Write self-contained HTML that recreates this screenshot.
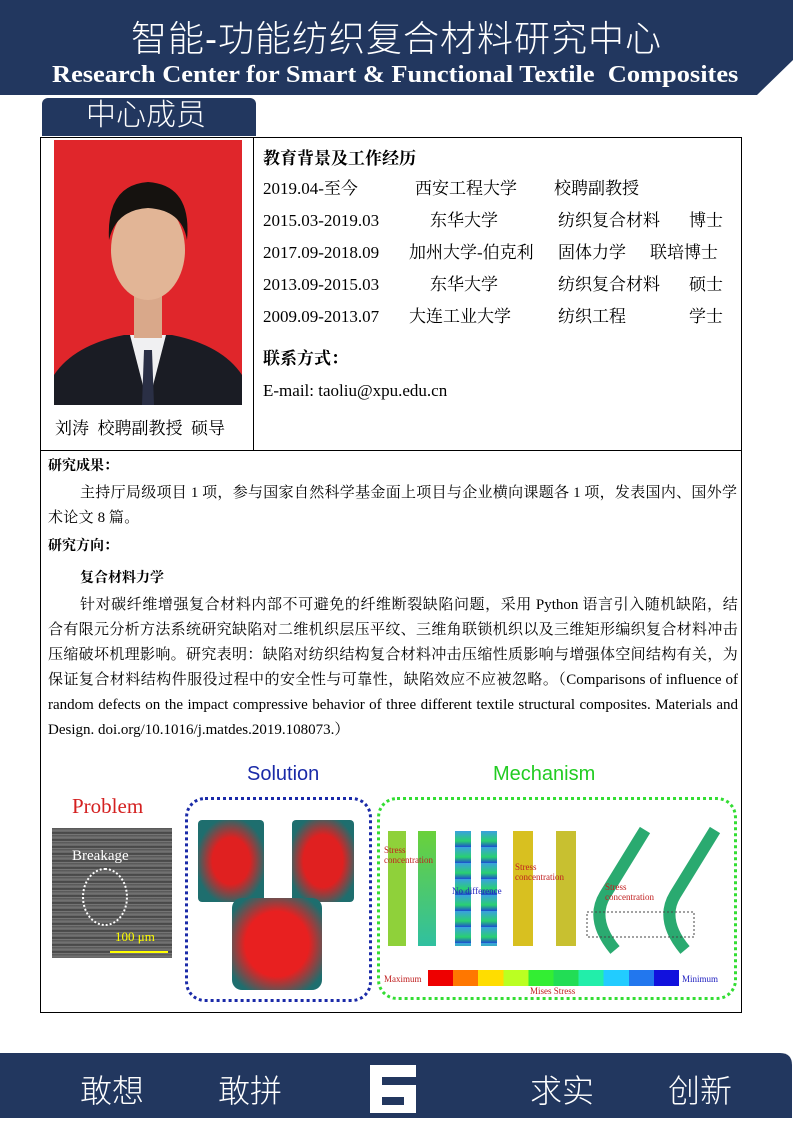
<!DOCTYPE html>
<html><head><meta charset="utf-8"><style>
*{margin:0;padding:0;box-sizing:border-box}
body{width:793px;height:1122px;position:relative;background:#fff;font-family:"Liberation Serif","Noto Serif CJK SC",serif;overflow:hidden}
.a{position:absolute;white-space:nowrap}
.sans{font-family:"Liberation Sans","Noto Sans CJK SC",sans-serif}
.r{font-size:17px;color:#000;line-height:22px;height:22px}
.p{font-size:15px;color:#000;line-height:25px}
.q{font-size:15px;letter-spacing:0.3px}
</style></head><body>
<svg class="a" style="left:0;top:0" width="793" height="100"><polygon points="0,0 793,0 793,60 757,95 0,95" fill="#22375f"/></svg>
<div class="a sans" style="left:0;width:793px;text-align:center;top:14px;font-size:36px;line-height:50px;color:#fff;font-weight:300;letter-spacing:1px">智能-功能纺织复合材料研究中心</div>
<div class="a" style="left:52px;top:61px;font-size:24px;line-height:28px;font-weight:bold;color:#fff;transform:scaleX(1.1);transform-origin:left">Research Center for Smart &amp; Functional Textile&nbsp; Composites</div>
<div class="a sans" style="left:42px;top:98px;width:214px;height:38px;background:#22375f;border-radius:6px 6px 0 0;color:#fff;font-size:30px;line-height:36px;padding-left:44px;font-weight:300">中心成员</div>
<div class="a" style="left:40px;top:137px;width:702px;height:876px;border:1px solid #000"></div>
<div class="a" style="left:253px;top:137px;width:1px;height:313px;background:#000"></div>
<div class="a" style="left:40px;top:450px;width:702px;height:1px;background:#000"></div>
<svg class="a" style="left:54px;top:140px" width="188" height="265">
<rect width="188" height="265" fill="#e0262b"/>
<path d="M0,265 L0,235 Q20,205 70,195 L118,195 Q168,205 188,235 L188,265Z" fill="#1a1c24"/>
<path d="M76,195 L94,265 L112,195Z" fill="#f0f0f2"/>
<path d="M90,210 L98,210 L100,265 L88,265Z" fill="#2a2f45"/>
<rect x="80" y="150" width="28" height="48" fill="#d9a88a"/>
<ellipse cx="94" cy="110" rx="37" ry="50" fill="#e2b596"/>
<path d="M55,100 Q52,45 94,42 Q138,45 133,100 Q128,70 94,68 Q62,70 55,100Z" fill="#15120f"/>
</svg>
<div class="a" style="left:55px;top:418px;font-size:17px;line-height:22px">刘涛&nbsp; 校聘副教授&nbsp; 硕导</div>
<div class="a r" style="left:263px;top:148px;font-weight:bold">教育背景及工作经历</div>
<div class="a r" style="left:263px;top:178px">2019.04-至今</div><div class="a r" style="left:415px;top:178px">西安工程大学</div><div class="a r" style="left:554px;top:178px">校聘副教授</div>
<div class="a r" style="left:263px;top:210px">2015.03-2019.03</div><div class="a r" style="left:430px;top:210px">东华大学</div><div class="a r" style="left:558px;top:210px">纺织复合材料</div><div class="a r" style="left:689px;top:210px">博士</div>
<div class="a r" style="left:263px;top:242px">2017.09-2018.09</div><div class="a r" style="left:409px;top:242px">加州大学-伯克利</div><div class="a r" style="left:558px;top:242px">固体力学</div><div class="a r" style="left:650px;top:242px">联培博士</div>
<div class="a r" style="left:263px;top:274px">2013.09-2015.03</div><div class="a r" style="left:430px;top:274px">东华大学</div><div class="a r" style="left:558px;top:274px">纺织复合材料</div><div class="a r" style="left:689px;top:274px">硕士</div>
<div class="a r" style="left:263px;top:306px">2009.09-2013.07</div><div class="a r" style="left:409px;top:306px">大连工业大学</div><div class="a r" style="left:558px;top:306px">纺织工程</div><div class="a r" style="left:689px;top:306px">学士</div>
<div class="a r" style="left:263px;top:348px;font-weight:bold">联系方式：</div>
<div class="a r" style="left:263px;top:380px">E-mail: taoliu@xpu.edu.cn</div>
<div class="a p" style="left:48px;top:454px;font-size:14px;font-weight:bold">研究成果：</div>
<div class="a p" style="left:48px;top:481px;width:690px;white-space:normal;text-indent:32px"><span class="q">主持厅局级项目</span> 1 <span class="q">项，参与国家自然科学基金面上项目与企业横向课题各</span> 1 <span class="q">项，发表国内、国外学术论文</span> 8 <span class="q">篇。</span></div>
<div class="a p" style="left:48px;top:534px;font-size:14px;font-weight:bold">研究方向：</div>
<div class="a p" style="left:80px;top:566px;font-size:14px;font-weight:bold">复合材料力学</div>
<div class="a p" style="left:48px;top:593px;width:690px;white-space:normal;text-indent:32px;text-align:justify"><span class="q">针对碳纤维增强复合材料内部不可避免的纤维断裂缺陷问题，采用</span> Python <span class="q">语言引入随机缺陷，结合有限元分析方法系统研究缺陷对二维机织层压平纹、三维角联锁机织以及三维矩形编织复合材料冲击压缩破坏机理影响。研究表明：缺陷对纺织结构复合材料冲击压缩性质影响与增强体空间结构有关，为保证复合材料结构件服役过程中的安全性与可靠性，缺陷效应不应被忽略。（</span>Comparisons of influence of random defects on the impact compressive behavior of three different textile structural composites. Materials and Design. doi.org/10.1016/j.matdes.2019.108073.）</div>
<div class="a" style="left:72px;top:794px;font-size:21px;color:#d42020">Problem</div>
<div class="a sans" style="left:247px;top:763px;font-size:20px;color:#1a2aa8">Solution</div>
<div class="a sans" style="left:493px;top:763px;font-size:20px;color:#22cc22">Mechanism</div>
<div class="a" style="left:52px;top:828px;width:120px;height:130px;background:repeating-linear-gradient(180deg,#555 0,#777 3px,#3a3a3a 5px,#888 7px)"></div>
<div class="a" style="left:72px;top:848px;font-size:15px;color:#fff">Breakage</div>
<div class="a" style="left:82px;top:868px;width:46px;height:58px;border:2px dotted #fff;border-radius:50%"></div>
<div class="a" style="left:115px;top:929px;font-size:13px;color:#ff0">100 μm</div>
<div class="a" style="left:110px;top:951px;width:58px;height:2px;background:#ff0"></div>
<div class="a" style="left:185px;top:797px;width:187px;height:205px;border:3px dotted #1a2aa8;border-radius:20px"></div>
<div class="a" style="left:198px;top:820px;width:66px;height:82px;background:radial-gradient(#e02020 40%,#1e6e6e 75%);border-radius:4px"></div>
<div class="a" style="left:292px;top:820px;width:62px;height:82px;background:radial-gradient(#e02020 45%,#1e6e6e 80%);border-radius:4px"></div>
<div class="a" style="left:232px;top:898px;width:90px;height:92px;background:radial-gradient(#e82020 50%,#1e6e6e 85%);border-radius:10px"></div>
<div class="a" style="left:377px;top:797px;width:360px;height:203px;border:3px dotted #33dd33;border-radius:20px"></div>
<div class="a" style="left:388px;top:831px;width:18px;height:115px;background:#8fd13a"></div>
<div class="a" style="left:418px;top:831px;width:18px;height:115px;background:linear-gradient(#6ad13a,#30c0a0)"></div>
<div class="a" style="left:455px;top:831px;width:16px;height:115px;background:repeating-linear-gradient(180deg,#3aa0e0 0,#2ad070 10px,#1d4fd0 16px)"></div>
<div class="a" style="left:481px;top:831px;width:16px;height:115px;background:repeating-linear-gradient(180deg,#3aa0e0 0,#2ad070 10px,#1d4fd0 16px)"></div>
<div class="a" style="left:513px;top:831px;width:20px;height:115px;background:#d8c020"></div>
<div class="a" style="left:556px;top:831px;width:20px;height:115px;background:#c8c030"></div>
<svg class="a" style="left:585px;top:825px" width="150" height="130"><path d="M60,5 L20,70 Q5,95 30,125" stroke="#2aaa70" stroke-width="12" fill="none"/><path d="M130,5 L90,70 Q75,95 100,125" stroke="#2aaa70" stroke-width="12" fill="none"/><rect x="2" y="87" width="107" height="25" fill="none" stroke="#444" stroke-dasharray="2,2"/></svg>
<div class="a" style="left:384px;top:845px;font-size:9px;color:#c02020;line-height:10px">Stress<br>concentration</div>
<div class="a" style="left:452px;top:886px;font-size:9px;color:#2020c0">No difference</div>
<div class="a" style="left:515px;top:862px;font-size:9px;color:#c02020;line-height:10px">Stress<br>concentration</div>
<div class="a" style="left:605px;top:882px;font-size:9px;color:#c02020;line-height:10px">Stress<br>concentration</div>
<div class="a" style="left:428px;top:970px;width:251px;height:16px;background:linear-gradient(90deg,#e00 0,#e00 10%,#f70 10%,#f70 20%,#fd0 20%,#fd0 30%,#bf2 30%,#bf2 40%,#3e3 40%,#3e3 50%,#2d5 50%,#2d5 60%,#2ea 60%,#2ea 70%,#2cf 70%,#2cf 80%,#27e 80%,#27e 90%,#11d 90%)"></div>
<div class="a" style="left:384px;top:974px;font-size:9px;color:#c02020">Maximum</div>
<div class="a" style="left:682px;top:974px;font-size:9px;color:#2020c0">Minimum</div>
<div class="a" style="left:530px;top:986px;font-size:9px;color:#c02020">Mises Stress</div>
<svg class="a" style="left:0;top:1053px" width="793" height="69"><path d="M0,0 L780,0 Q792,0 792,12 L792,65 L0,65Z" fill="#22375f"/></svg>
<div class="a sans" style="left:80px;top:1066px;font-size:32px;color:#fff;font-weight:300">敢想</div>
<div class="a sans" style="left:218px;top:1066px;font-size:32px;color:#fff;font-weight:300">敢拼</div>
<div class="a sans" style="left:530px;top:1066px;font-size:32px;color:#fff;font-weight:300">求实</div>
<div class="a sans" style="left:668px;top:1066px;font-size:32px;color:#fff;font-weight:300">创新</div>
<svg class="a" style="left:370px;top:1065px" width="46" height="48"><path d="M0,0 H46 V12 H12 V20 H46 V48 H12 V40 H34 V32 H12 V48 H0Z" fill="#fff"/></svg>
</body></html>
